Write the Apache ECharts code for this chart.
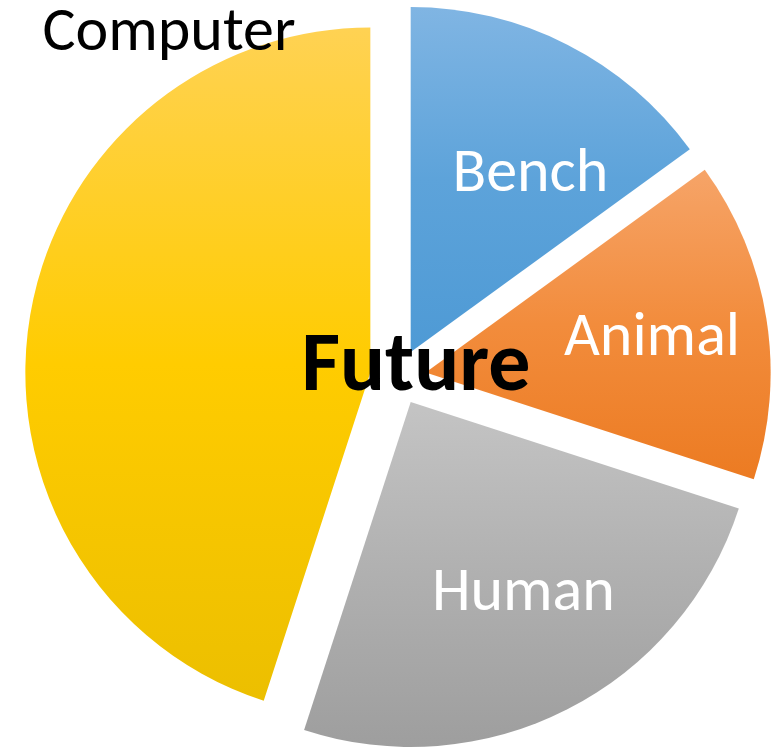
<!DOCTYPE html>
<html>
<head>
<meta charset="utf-8">
<script src="https://cdn.jsdelivr.net/npm/echarts@6/dist/echarts.min.js"></script>
<style>
html,body{margin:0;padding:0;background:#fff;}
#c{width:781px;height:750px;}
</style>
</head>
<body>
<div id="c"></div>
<script>
var categories = ['Bench', 'Animal', 'Human', 'Computer'];
var values = [15, 15, 25, 45];
var chartTitle = 'Future';

var gradients = {
  Bench: ['#80B5E3', '#5DA3DA', '#4E9AD5'],
  Animal: ['#F6A468', '#F28C3C', '#EC7B22'],
  Human: ['#C4C4C4', '#B0B0B0', '#9E9E9E'],
  Computer: ['#FFD253', '#FFCC00', '#ECBF00']
};
var labelColors = { Bench: '#fff', Animal: '#fff', Human: '#fff', Computer: '#000' };
var labelNudge = {
  Bench: [40, -20],
  Animal: [53, -6],
  Human: [33, 36],
  Computer: [-28, -311]
};

function grad(c) {
  return new echarts.graphic.LinearGradient(0, 0, 0, 1, [
    { offset: 0, color: c[0] },
    { offset: 0.5, color: c[1] },
    { offset: 1, color: c[2] }
  ]);
}

var fontStack = 'Carlito, "Open Sans", "Noto Sans", sans-serif';

var data = categories.map(function (name, i) {
  return {
    name: name,
    value: values[i],
    selected: true,
    itemStyle: { color: grad(gradients[name]) },
    label: { color: labelColors[name] }
  };
});

var chart = echarts.init(document.getElementById('c'), null, { renderer: 'canvas' });
chart.setOption({
  animation: false,
  backgroundColor: '#fff',
  title: {
    text: chartTitle,
    left: 411,
    top: 322,
    textAlign: 'center',
    textStyle: { fontFamily: fontStack, fontWeight: 'bold', fontSize: 84, color: '#000' }
  },
  series: [{
    type: 'pie',
    center: [398, 377],
    radius: [0, 345],
    startAngle: 90,
    clockwise: true,
    selectedMode: 'multiple',
    selectedOffset: 28,
    silent: true,
    emphasis: { disabled: true },
    select: { disabled: false, itemStyle: {} },
    itemStyle: { borderWidth: 0 },
    label: {
      show: true,
      position: 'inside',
      fontFamily: fontStack,
      fontSize: 62,
      fontWeight: 'normal'
    },
    labelLine: { show: false },
    labelLayout: function (p) {
      var n = labelNudge[categories[p.dataIndex]];
      return { dx: n[0], dy: n[1] };
    },
    data: data
  }]
});
</script>
</body>
</html>
